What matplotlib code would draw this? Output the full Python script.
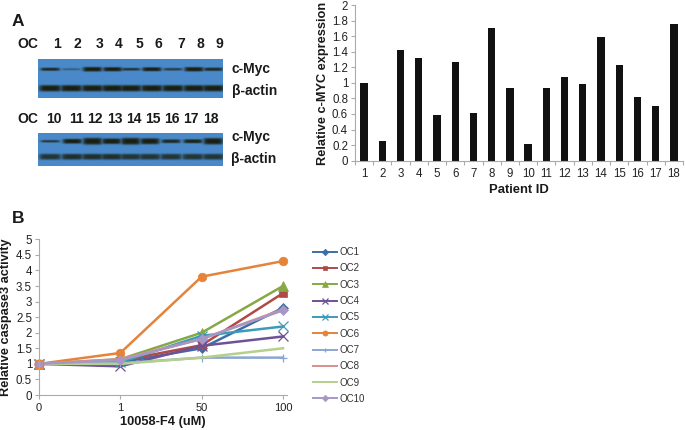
import numpy as np
import matplotlib
matplotlib.use("Agg")
import matplotlib.pyplot as plt

plt.rcParams['font.family'] = ['Liberation Sans', 'DejaVu Sans']
W, H = 685, 430

patients = [str(i) for i in range(1, 19)]
myc_expr = [1.0, 0.25, 1.42, 1.32, 0.59, 1.27, 0.61, 1.70, 0.94, 0.21, 0.94, 1.07, 0.99, 1.59, 1.23, 0.82, 0.70, 1.76]
bar_ticks = [0, 0.2, 0.4, 0.6, 0.8, 1, 1.2, 1.4, 1.6, 1.8, 2]
bar_ticklabels = ['0', '0.2', '0.4', '0.6', '0.8', '1', '1.2', '1.4', '1.6', '1.8', '2']

doses = ['0', '1', '50', '100']
series_names = ['OC1', 'OC2', 'OC3', 'OC4', 'OC5', 'OC6', 'OC7', 'OC8', 'OC9', 'OC10']
oc1 = [1, 1.05, 1.5, 2.8]
oc2 = [1, 1.1, 1.6, 3.27]
oc3 = [1, 1.15, 2.0, 3.5]
oc4 = [1, 0.92, 1.58, 1.88]
oc5 = [1, 1.05, 1.9, 2.2]
oc6 = [1, 1.35, 3.8, 4.3]
oc7 = [1, 1.02, 1.2, 1.2]
oc8 = [1, 1.15, 1.8, 2.75]
oc9 = [1, 1.0, 1.2, 1.5]
oc10 = [1, 1.12, 1.8, 2.72]
all_series = [oc1, oc2, oc3, oc4, oc5, oc6, oc7, oc8, oc9, oc10]
line_colors = ['#3c6ea5', '#b04a47', '#86a845', '#6f5195', '#3c9bb8', '#e5833a', '#8ca6d3', '#d88f8d', '#b5cf8e', '#a797c5']
line_markers = ['D', 's', '^', 'x', 'x', 'o', '+', None, None, 'D']
marker_sizes = [5.5, 5.5, 6.5, 7, 7, 6.2, 6, 0, 0, 5.5]
y_ticks = [0, 0.5, 1, 1.5, 2, 2.5, 3, 3.5, 4, 4.5, 5]
y_ticklabels = ['0', '0.5', '1', '1.5', '2', '2.5', '3', '3.5', '4', '4.5', '5']

blot1_lanes = ['1', '2', '3', '4', '5', '6', '7', '8', '9']
blot1_myc = [0.9, 0.4, 1.0, 1.0, 0.8, 1.0, 0.7, 1.0, 0.9]
blot1_actin = [1.0, 1.0, 1.0, 1.0, 1.0, 1.0, 1.0, 1.0, 1.0]
blot2_lanes = ['10', '11', '12', '13', '14', '15', '16', '17', '18']
blot2_myc = [0.75, 1.0, 1.0, 1.0, 1.0, 1.0, 0.9, 0.95, 1.0]
blot2_actin = [0.8, 0.85, 0.85, 0.85, 0.8, 0.8, 0.8, 0.8, 0.8]
blot1_thick = [1.6, 1.1, 2.3, 2.1, 1.4, 2.0, 1.4, 2.2, 1.7]
blot2_thick = [1.3, 2.4, 3.4, 2.8, 3.4, 3.0, 1.9, 2.0, 3.2]


def faxes(x0, y0, x1, y1):
    return fig.add_axes([x0 / W, 1 - y1 / H, (x1 - x0) / W, (y1 - y0) / H])


def blot(box, centers, myc, actin, thick, myc_y, actin_y, actin_sig):
    x0, y0, x1, y1 = box
    ax = faxes(x0, y0, x1, y1)
    xs, ys = np.meshgrid(np.arange(x0, x1, 0.5), np.arange(y0, y1, 0.5))
    dark = np.zeros_like(xs)
    half = (x1 - x0) / 9 / 2 * 0.95
    for c, m, a, t in zip(centers, myc, actin, thick):
        lane = np.exp(-((xs - c) / half) ** 6)
        dark = np.maximum(dark, m * lane * np.exp(-((ys - myc_y) / t) ** 4))
        lane2 = np.exp(-((xs - c) / (half * 1.15)) ** 6)
        dark = np.maximum(dark, a * lane2 * np.exp(-((ys - actin_y) / actin_sig) ** 4))
    bg = np.array([0.29, 0.54, 0.79])
    ink = np.array([0.10, 0.12, 0.06])
    img = bg[None, None, :] * (1 - dark[..., None]) + ink[None, None, :] * dark[..., None]
    ax.imshow(img, aspect='auto', extent=(x0, x1, y1, y0), interpolation='bilinear')
    ax.axis('off')


fig = plt.figure(figsize=(W / 100, H / 100), dpi=100, facecolor='white')


def label(x, y, s, size=10, ha='center', weight='bold', color='#1a1a1a', rotation=0):
    fig.text(x / W, 1 - y / H, s, fontsize=size, ha=ha, va='center', fontweight=weight, color=color, rotation=rotation)


label(18, 22, 'A', 12.5)
label(18, 218, 'B', 12.5)
label(28, 44, 'OC')
label(28, 119, 'OC')
for x, s in zip([57, 77, 100, 119, 139, 158, 181, 200, 219], blot1_lanes):
    label(x, 44, s)
for x, s in zip([54, 76, 95, 115, 134, 153, 172, 191, 211], blot2_lanes):
    label(x, 119, s)
label(231, 69, 'c-Myc', ha='left')
label(232, 91, 'β-actin', ha='left')
label(231, 137, 'c-Myc', ha='left')
label(231, 159, 'β-actin', ha='left')

blot((38, 59, 222, 98), [50, 71, 92, 112, 130, 151, 172, 193, 212], blot1_myc, blot1_actin, blot1_thick, 69, 88, 3.2)
blot((38, 133, 222, 166), [50, 72, 92, 111, 130, 149, 170, 192, 212], blot2_myc, blot2_actin, blot2_thick, 141, 156.5, 3.0)

# Bar chart
ax = faxes(355, 5, 683, 160.7)
pos = np.arange(1, 19)
ax.bar(pos, myc_expr, width=0.4, color='#111111')
ax.set_xlim(0.5, 18.5)
ax.set_ylim(0, 2)
ax.set_yticks(bar_ticks, bar_ticklabels)
ax.set_xticks(pos, patients)
ax.set_xticks(np.arange(0.5, 19), minor=True)
ax.tick_params(axis='x', which='major', length=0, labelsize=8.3, pad=5, colors='#222222')
ax.tick_params(axis='x', which='minor', length=3, color='#aaaaaa', width=0.8)
ax.tick_params(axis='y', length=3, labelsize=8.3, pad=2, color='#aaaaaa', labelcolor='#222222')
label(323, 83, 'Relative c-MYC expression', size=9.2, rotation=90)
ax.set_xlabel('Patient ID', fontsize=9.4, fontweight='bold', labelpad=3, color='#1a1a1a')
for s in ['top', 'right']:
    ax.spines[s].set_visible(False)
for s in ['left', 'bottom']:
    ax.spines[s].set_color('#aaaaaa')
    ax.spines[s].set_linewidth(0.8)

# Line chart
ax2 = faxes(39, 239.3, 287, 395)
xp = np.arange(len(doses))
for vals, name, c, m, ms in zip(all_series, series_names, line_colors, line_markers, marker_sizes):
    ax2.plot(xp, vals, color=c, lw=1.8, marker=m, ms=ms, mew=0.9 if m in ('x', '+') else 0.5,
             label=name, clip_on=False)
ax2.plot(xp[:1], oc8[:1], ls='none', marker='s', ms=6, mfc='none', mec=line_colors[5], mew=1, clip_on=False)
ax2.set_xlim(0, 3 * 248 / 244)
ax2.set_ylim(0, 5)
ax2.set_xticks(xp, doses)
ax2.set_yticks(y_ticks, y_ticklabels)
ax2.tick_params(axis='x', length=3, labelsize=8, pad=3, color='#aaaaaa', labelcolor='#222222')
ax2.tick_params(axis='y', length=3, labelsize=8.3, pad=2, color='#aaaaaa', labelcolor='#222222')
label(6, 317.5, 'Relative caspase3 activity', size=9.2, rotation=90)
ax2.set_xlabel('10058-F4 (uM)', fontsize=9.3, fontweight='bold', labelpad=2, color='#1a1a1a')
for s in ['top', 'right']:
    ax2.spines[s].set_visible(False)
for s in ['left', 'bottom']:
    ax2.spines[s].set_color('#aaaaaa')
    ax2.spines[s].set_linewidth(0.8)

handles, labels = ax2.get_legend_handles_labels()
leg = fig.legend(handles, labels, loc='upper left', bbox_to_anchor=(313 / W, 1 - 247 / H), bbox_transform=fig.transFigure,
                 frameon=False, fontsize=7, labelspacing=0.65, handlelength=2.5, handletextpad=0.2, borderpad=0, borderaxespad=0,
                 labelcolor='#333333', markerscale=0.6)
for h in leg.get_lines():
    h.set_linewidth(1.4)

fig.savefig('out.png', dpi=100, facecolor='white')
